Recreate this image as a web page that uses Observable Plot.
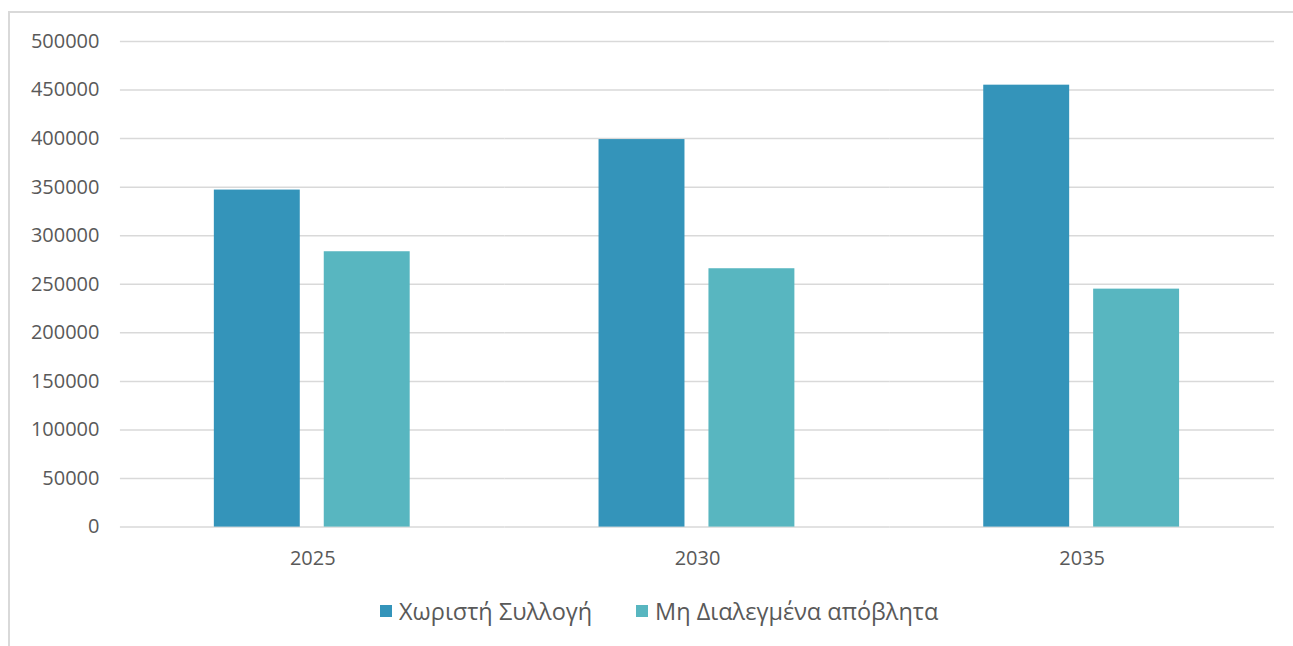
<!DOCTYPE html>
<html>
<head>
<meta charset="utf-8">
<script src="https://cdn.jsdelivr.net/npm/d3@7"></script>
<script src="https://cdn.jsdelivr.net/npm/@observablehq/plot@0.6"></script>
<style>
  html, body { margin: 0; padding: 0; background: #fff; }
  body { width: 1293px; height: 646px; position: relative; overflow: hidden; font-family: "Open Sans", sans-serif; }
  #frame { position: absolute; left: 8px; top: 11px; width: 1300px; height: 700px; border-left: 2px solid #d9d9d9; border-top: 2px solid #d9d9d9; box-sizing: border-box; }
  #chart { position: absolute; left: 1px; top: 0; }
  #legend { position: absolute; top: 595px; left: 0; width: 1293px; font-size: 23.5px; color: #595959; }
  .item { position: absolute; display: flex; align-items: center; white-space: nowrap; }
  .sw { width: 12px; height: 12px; margin-right: 7px; display: inline-block; }
</style>
</head>
<body>
<div id="frame"></div>
<div id="chart"></div>
<div id="legend"></div>
<script>
const years = ["2025", "2030", "2035"];
const seriesNames = ["Χωριστή Συλλογή", "Μη Διαλεγμένα απόβλητα"];
const separateCollection = [347000, 399000, 455000];
const unsortedWaste = [283500, 266000, 245000];
const colors = ["#3494BA", "#58B6C0"];
const yTicks = [0, 50000, 100000, 150000, 200000, 250000, 300000, 350000, 400000, 450000, 500000];

const data = [];
years.forEach((yr, i) => {
  data.push({year: yr, series: seriesNames[0], value: separateCollection[i]});
  data.push({year: yr, series: seriesNames[1], value: unsortedWaste[i]});
});

const chart = Plot.plot({
  width: 1293,
  height: 580,
  marginLeft: 119,
  marginRight: 19,
  marginTop: 41,
  marginBottom: 53,
  style: {fontFamily: "Open Sans, sans-serif", fontSize: "20px", color: "#595959", background: "transparent"},
  fx: {domain: years, padding: 0, label: null, axis: null},
  x: {domain: seriesNames, paddingInner: 0.218, paddingOuter: 0.859, axis: null},
  y: {domain: [0, 500000], ticks: yTicks, label: null},
  color: {domain: seriesNames, range: colors},
  marks: [
    Plot.ruleY(yTicks, {stroke: "#d9d9d9", strokeWidth: 1.5}),
    Plot.barY(data, {fx: "year", x: "series", y: "value", fill: "series"}),
    Plot.axisY({ticks: yTicks, tickSize: 0, tickPadding: 21, tickFormat: d => String(d), fill: "#595959", fontSize: 20, label: null}),
    Plot.axisFx({anchor: "bottom", tickSize: 0, tickPadding: 24, fill: "#595959", fontSize: 20, label: null})
  ]
});
document.getElementById("chart").appendChild(chart);

const legend = document.getElementById("legend");
const lefts = [380, 636];
seriesNames.forEach((s, i) => {
  const it = document.createElement("div");
  it.className = "item";
  it.style.left = lefts[i] + "px";
  const sw = document.createElement("span");
  sw.className = "sw";
  sw.style.background = colors[i];
  it.appendChild(sw);
  const t = document.createElement("span");
  t.textContent = s;
  it.appendChild(t);
  legend.appendChild(it);
});
</script>
</body>
</html>
